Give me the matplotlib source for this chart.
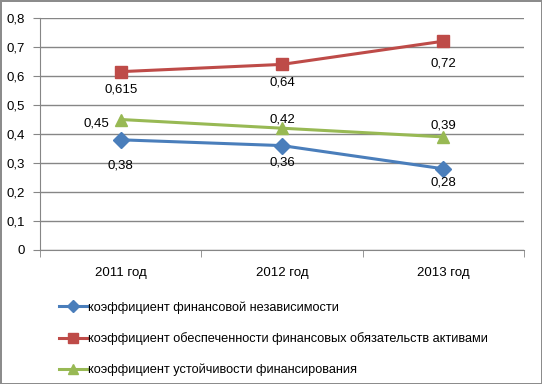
import matplotlib
matplotlib.use("Agg")
import matplotlib.pyplot as plt
from matplotlib.ticker import FixedLocator

categories = ["2011 год", "2012 год", "2013 год"]
series_names = [
    "коэффициент финансовой независимости",
    "коэффициент обеспеченности финансовых обязательств активами",
    "коэффициент устойчивости финансирования",
]
independence = [0.38, 0.36, 0.28]
coverage = [0.615, 0.64, 0.72]
stability = [0.45, 0.42, 0.39]
label_indep = ["0,38", "0,36", "0,28"]
label_cov = ["0,615", "0,64", "0,72"]
label_stab = ["0,45", "0,42", "0,39"]
y_ticks = [0, 0.1, 0.2, 0.3, 0.4, 0.5, 0.6, 0.7, 0.8]
y_tick_labels = ["0", "0,1", "0,2", "0,3", "0,4", "0,5", "0,6", "0,7", "0,8"]

plt.rcParams['font.family'] = ['Liberation Sans', 'DejaVu Sans']

W, H = 542, 384
fig = plt.figure(figsize=(W / 100, H / 100), dpi=100)
fig.patch.set_facecolor("white")
fig.patch.set_edgecolor("#8c8c8c")
fig.patch.set_linewidth(2)

left, right, top, bottom = 40, 524, 18, 250
ax = fig.add_axes([left / W, 1 - bottom / H, (right - left) / W, (bottom - top) / H])

x = list(range(len(categories)))
blue, red, green = "#4A7EBB", "#BE4B48", "#98B954"
ax.plot(x, independence, color=blue, lw=2.2, marker="D", ms=8, zorder=3)
ax.plot(x, coverage, color=red, lw=2.2, marker="s", ms=9, zorder=3)
ax.plot(x, stability, color=green, lw=2.2, marker="^", ms=9, zorder=3)

ax.set_xlim(-0.5, 2.5)
ax.set_ylim(0, 0.8)
ax.set_yticks(y_ticks)
ax.set_yticklabels(y_tick_labels, fontsize=9.5)
ax.set_xticks(x)
ax.set_xticklabels(categories, fontsize=9.5)
ax.tick_params(axis="x", length=0, pad=12)
ax.xaxis.set_minor_locator(FixedLocator([-0.5, 0.5, 1.5, 2.5]))
ax.tick_params(axis="x", which="minor", length=5, color="#868686", direction="out")
ax.tick_params(axis="y", length=5, color="#868686", pad=6)
ax.grid(axis="y", color="#868686", lw=1)
ax.set_axisbelow(True)
for s in ["top", "right"]:
    ax.spines[s].set_visible(False)
ax.spines["left"].set_color("#868686")
ax.spines["bottom"].set_color("#868686")

fs = 9.5
px = 0.72  # points per pixel at 100 dpi
indep_off = [(0, -26), (0, -17), (0, -14)]
cov_off = [(0, -18), (0, -18), (0, -22)]
stab_off = [(-24, -4), (0, 9), (0, 11)]
for i in x:
    ax.annotate(label_indep[i], (i, independence[i]),
                xytext=(indep_off[i][0] * px, indep_off[i][1] * px), textcoords="offset points",
                ha="center", va="center", fontsize=fs)
    ax.annotate(label_cov[i], (i, coverage[i]),
                xytext=(cov_off[i][0] * px, cov_off[i][1] * px), textcoords="offset points",
                ha="center", va="center", fontsize=fs)
    ax.annotate(label_stab[i], (i, stability[i]),
                xytext=(stab_off[i][0] * px, stab_off[i][1] * px), textcoords="offset points",
                ha="center", va="center", fontsize=fs)

handles = ax.get_lines()
leg = fig.legend(handles, series_names, loc="upper left", bbox_to_anchor=(54 / W, 1 - 296 / H),
                 frameon=False, fontsize=9.2, labelspacing=1.45, handlelength=2.2,
                 handletextpad=0.1, borderaxespad=0, markerscale=0.75)

fig.savefig("out.png", dpi=100)
